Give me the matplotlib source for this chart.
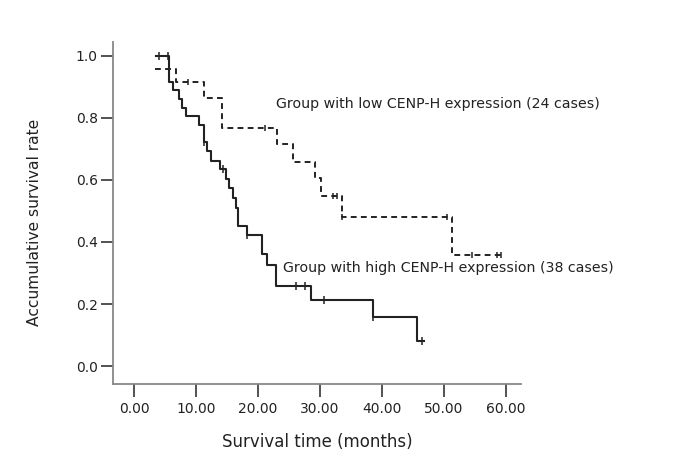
import numpy as np
import matplotlib
matplotlib.use("Agg")
from matplotlib import pyplot as plt

# high CENP-H group (38 cases): event times and survival after each step
high_t = [3.5, 5.6, 6.2, 7.3, 7.8, 8.4, 10.5, 11.3, 11.8, 12.4, 13.9, 14.8, 15.3,
          15.9, 16.5, 16.8, 18.2, 20.7, 21.4, 22.9, 28.6, 38.6, 45.6, 46.8]
high_s = [1.0, 0.917, 0.889, 0.861, 0.833, 0.806, 0.778, 0.722, 0.692, 0.662, 0.634,
          0.602, 0.575, 0.543, 0.511, 0.452, 0.423, 0.361, 0.326, 0.257, 0.214,
          0.158, 0.080, 0.080]
high_cens_t = [4.0, 5.5, 11.3, 14.4, 18.2, 26.1, 27.6, 30.6, 38.6, 46.5]
high_cens_s = [1.0, 1.0, 0.722, 0.634, 0.423, 0.257, 0.257, 0.214, 0.158, 0.080]

# low CENP-H group (24 cases)
low_t = [3.4, 6.7, 11.2, 14.2, 23.1, 25.7, 29.2, 30.1, 33.6, 51.3, 59.4]
low_s = [0.958, 0.917, 0.865, 0.769, 0.716, 0.658, 0.605, 0.548, 0.479, 0.359, 0.359]
low_cens_t = [8.7, 21.1, 32.0, 32.7, 33.6, 50.5, 54.5, 58.5, 59.2]
low_cens_s = [0.917, 0.769, 0.548, 0.548, 0.479, 0.479, 0.359, 0.359, 0.359]

xticks = [0, 10, 20, 30, 40, 50, 60]
yticks = [0.0, 0.2, 0.4, 0.6, 0.8, 1.0]

fig = plt.figure(figsize=(6.79, 4.66), dpi=100)
ax = fig.add_axes([113/679, 82/466, 408/679, 342/466])

lc = '#222222'
ax.step(high_t, high_s, where='post', color=lc, lw=1.5)
ax.plot(high_cens_t, high_cens_s, ls='none', marker='|', ms=6, mew=1.1, color=lc)
ax.step(low_t, low_s, where='post', color=lc, lw=1.4, ls=(0, (3, 2.2)))
ax.plot(low_cens_t, low_cens_s, ls='none', marker='|', ms=5, mew=1.1, color=lc)

ax.text(22.9, 0.845, 'Group with low CENP-H expression (24 cases)', fontsize=10.2,
        va='center', color='#222222')
ax.text(24.0, 0.315, 'Group with high CENP-H expression (38 cases)', fontsize=10.2,
        va='center', color='#222222')

ax.set_xlim(-3.4, 62.4)
ax.set_ylim(-0.058, 1.045)
ax.set_xticks(xticks)
ax.set_xticklabels(['%.2f' % v for v in xticks])
ax.set_yticks(yticks)
ax.set_yticklabels(['%.1f' % v for v in yticks])
for s in ['top', 'right']:
    ax.spines[s].set_visible(False)
for s in ['left', 'bottom']:
    ax.spines[s].set_color('#888888')
    ax.spines[s].set_linewidth(1.3)
ax.tick_params(axis='both', length=9, width=1.3, color='#444444', labelsize=10,
               labelcolor='#222222')
ax.tick_params(axis='x', pad=4)
ax.tick_params(axis='y', pad=2)

ax.set_xlabel('Survival time (months)', fontsize=12, labelpad=12, color='#222222')
ax.set_ylabel('Accumulative survival rate', fontsize=11.2, color='#222222')
ax.yaxis.set_label_coords(-0.173, 0.474)

fig.savefig('out.png', dpi=100)
